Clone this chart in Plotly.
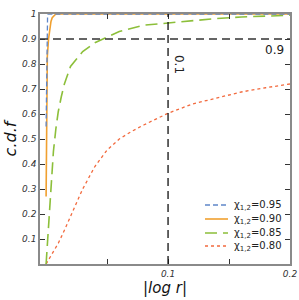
import plotly.graph_objects as go

# ---- data ----
x_blue = [0.0, 0.0003, 0.0006, 0.0009, 0.0012, 0.0015, 0.003, 0.006, 0.2]
y_blue = [0.55, 0.75, 0.88, 0.95, 0.99, 1.0, 1.0, 1.0, 1.0]

x_orange = [0.0, 0.0005, 0.001, 0.002, 0.003, 0.004, 0.005, 0.0065, 0.008, 0.01, 0.2]
y_orange = [0.27, 0.7, 0.83, 0.9, 0.945, 0.97, 0.985, 0.995, 1.0, 1.0, 1.0]

x_green = [0.0, 0.002, 0.004, 0.006, 0.008, 0.01, 0.0125, 0.015, 0.02, 0.03, 0.04,
           0.05, 0.06, 0.08, 0.1, 0.12, 0.14, 0.16, 0.18, 0.2]
y_green = [0.0, 0.16, 0.32, 0.45, 0.54, 0.61, 0.67, 0.72, 0.79, 0.85, 0.885,
           0.908, 0.93, 0.955, 0.965, 0.975, 0.982, 0.988, 0.992, 0.995]

x_red = [0.0, 0.005, 0.01, 0.015, 0.02, 0.025, 0.03, 0.04, 0.05, 0.06, 0.07,
         0.08, 0.1, 0.12, 0.14, 0.16, 0.18, 0.2]
y_red = [0.0, 0.04, 0.083, 0.135, 0.19, 0.245, 0.3, 0.39, 0.456, 0.5, 0.53,
         0.556, 0.603, 0.64, 0.665, 0.688, 0.705, 0.72]

labels = ["χ<sub>1,2</sub>=0.95", "χ<sub>1,2</sub>=0.90",
          "χ<sub>1,2</sub>=0.85", "χ<sub>1,2</sub>=0.80"]
colors = ["#5f86c9", "#f0a030", "#8cbf3a", "#f26a3e"]
dashes = ["5px,3px", "solid", "12px,6px", "dot"]
widths = [1.3, 1.6, 1.6, 1.3]

x_tickvals = [0.05, 0.1, 0.15, 0.2]
x_ticktext = ["", "0.1", "", "0.2"]
y_tickvals = [0.1, 0.2, 0.3, 0.4, 0.5, 0.6, 0.7, 0.8, 0.9, 1.0]
y_ticktext = ["0.1", "0.2", "0.3", "0.4", "0.5", "0.6", "0.7", "0.8", "0.9", "1"]

ref_x = 0.1
ref_y = 0.9

series_x = [x_blue, x_orange, x_green, x_red]
series_y = [y_blue, y_orange, y_green, y_red]

fig = go.Figure()

for i in [3, 2, 1, 0]:
    fig.add_trace(go.Scatter(x=series_x[i], y=series_y[i], mode="lines", name=labels[i],
                             showlegend=False,
                             line=dict(color=colors[i], width=widths[i], dash=dashes[i])))

# reference lines
fig.add_shape(type="line", xref="paper", yref="y", x0=0, x1=1, y0=ref_y, y1=ref_y,
              line=dict(color="#333333", width=1.3, dash="8px,5px"), layer="above")
fig.add_shape(type="line", xref="x", yref="paper", x0=ref_x, x1=ref_x, y0=0, y1=1,
              line=dict(color="#111111", width=1.3, dash="8px,5px"), layer="above")

fig.add_annotation(x=ref_x, y=0.80, xref="x", yref="y", text="0.1", showarrow=False,
                   textangle=90, xshift=11,
                   font=dict(family="DejaVu Sans", size=12, color="#222"))
fig.add_annotation(x=1, y=ref_y, xref="paper", yref="y", text="0.9", showarrow=False,
                   xanchor="right", yanchor="top", xshift=-4, yshift=-2,
                   font=dict(family="DejaVu Sans", size=12, color="#222"))

# compact legend (drawn in paper coordinates)
leg_rows = [0.236, 0.18, 0.124, 0.072]
for i in range(4):
    fig.add_shape(type="line", xref="paper", yref="paper", x0=0.66, x1=0.752,
                  y0=leg_rows[i], y1=leg_rows[i],
                  line=dict(color=colors[i], width=widths[i], dash=dashes[i]))
    fig.add_annotation(x=0.768, y=leg_rows[i], xref="paper", yref="paper",
                       text=labels[i], showarrow=False, xanchor="left", yanchor="middle",
                       font=dict(family="DejaVu Sans", size=10, color="#222"))

axis_common = dict(showgrid=False, zeroline=False, showline=True, linecolor="#8a8a8a",
                   linewidth=1.5, mirror="ticks", ticks="inside", ticklen=5,
                   tickcolor="#333", tickwidth=1, automargin=False,
                   tickfont=dict(family="DejaVu Sans", size=9, color="#333", style="italic"))

fig.update_xaxes(range=[-0.005, 0.2], tickvals=x_tickvals, ticktext=x_ticktext,
                 title=dict(text="|log r|", standoff=4,
                            font=dict(family="DejaVu Sans", size=15, color="#111", style="italic")),
                 **axis_common)
fig.update_yaxes(range=[0, 1], tickvals=y_tickvals, ticktext=y_ticktext,
                 title=dict(text="c.d.f", standoff=2,
                            font=dict(family="DejaVu Sans", size=16, color="#111", style="italic")),
                 **axis_common)

fig.update_layout(
    width=299, height=300,
    margin=dict(l=40, r=9, t=14, b=36),
    plot_bgcolor="white", paper_bgcolor="white",
    showlegend=False,
)

fig.write_html("out.html", config={"displayModeBar": False},
               post_script="document.body.style.margin='0px';document.body.style.padding='0px';")
